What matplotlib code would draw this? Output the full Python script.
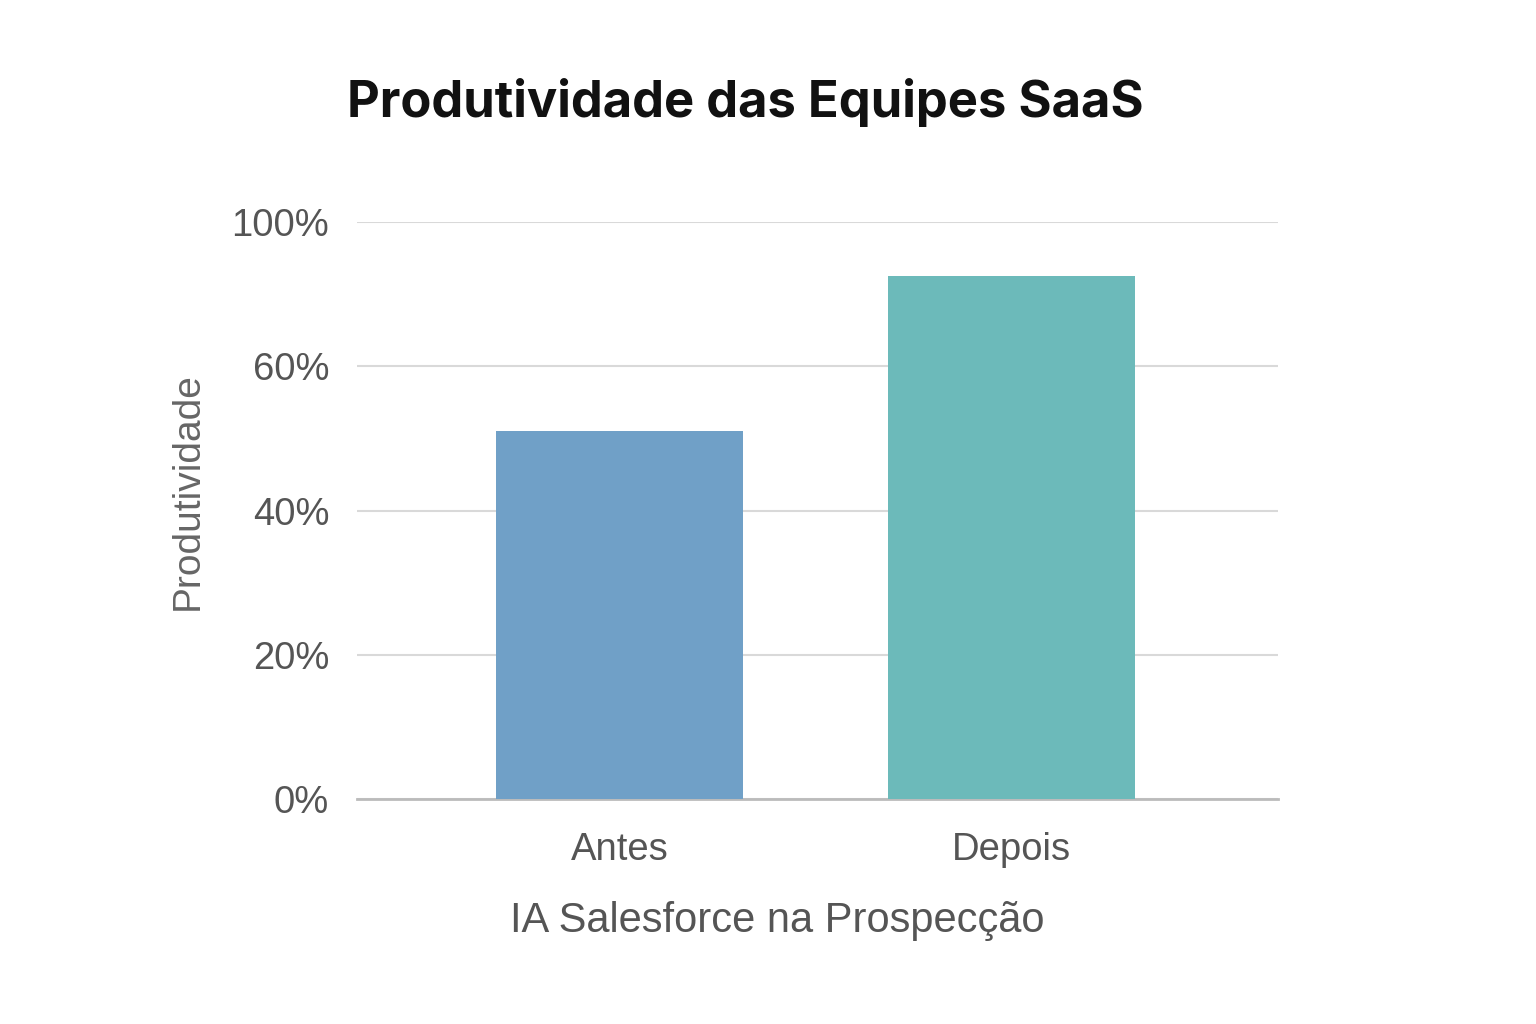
import matplotlib
matplotlib.use("Agg")
import matplotlib.pyplot as plt

categories = ["Antes", "Depois"]
values = [51, 72.5]
bar_colors = ["#70a0c7", "#6cbaba"]
tick_pos = [0, 20, 40, 60, 80]
tick_labels = ["0%", "20%", "40%", "60%", "100%"]

plt.rcParams["font.family"] = ["Liberation Sans", "DejaVu Sans"]

fig = plt.figure(figsize=(15.36, 10.24), dpi=100)
ax = fig.add_axes([0.2324, 0.2197, 0.5996, 0.5635])

x = range(len(categories))
ax.bar(x, values, width=0.63, color=bar_colors, zorder=3)

ax.set_xlim(-0.671, 1.679)
ax.set_ylim(0, 80)
ax.set_yticks(tick_pos)
ax.set_yticklabels(tick_labels)
ax.set_xticks(list(x))
ax.set_xticklabels(categories)
ax.tick_params(axis="both", length=0, labelsize=27.5, colors="#555555")
ax.tick_params(axis="y", pad=20)
ax.tick_params(axis="x", pad=24)

ax.grid(axis="y", color="#d9d9d9", linewidth=1.5, zorder=0)
for side in ["top", "right", "left"]:
    ax.spines[side].set_visible(False)
ax.spines["bottom"].set_color("#bbbbbb")
ax.spines["bottom"].set_linewidth(2)

fig.text(0.485, 0.900, "Produtividade das Equipes SaaS", ha="center", va="center",
         fontsize=36.5, fontweight="bold", color="#111111", family=["Inter", "DejaVu Sans"])
fig.text(0.122, 0.52, "Produtividade", rotation=90, ha="center", va="center",
         fontsize=28, color="#666666")
fig.text(0.506, 0.101, "IA Salesforce na Prospecção", ha="center", va="center",
         fontsize=30, color="#555555")

fig.savefig("out.png", dpi=100)
